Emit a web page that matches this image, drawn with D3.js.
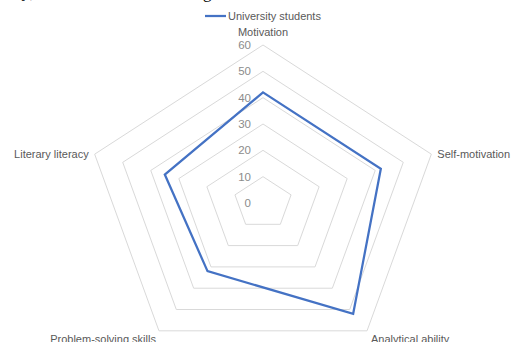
<!DOCTYPE html>
<html>
<head>
<meta charset="utf-8">
<script src="https://cdn.jsdelivr.net/npm/d3@7"></script>
<style>
  html, body { margin: 0; padding: 0; background: #fff; }
  svg { display: block; }
</style>
</head>
<body>
<svg id="chart" width="515" height="342"></svg>
<script>
const categories = ["Motivation", "Self-motivation", "Analytical ability", "Problem-solving skills", "Literary literacy"];
const seriesName = "University students";
const values = [42, 42, 52, 32, 35];
const tickValues = [0, 10, 20, 30, 40, 50, 60];

const svg = d3.select("#chart");
const cx = 263, cy = 203;
const sx = d3.scaleLinear().domain([0, 60]).range([0, 177]);
const sy = d3.scaleLinear().domain([0, 60]).range([0, 158]);
const angle = d3.scaleLinear().domain([0, categories.length]).range([0, 2 * Math.PI]);

function pt(i, v) {
  const a = angle(i);
  return [cx + sx(v) * Math.sin(a), cy - sy(v) * Math.cos(a)];
}

// document text fragments at top (cut off by the crop, as in the reference)
svg.append("text").attr("x", 40).attr("y", -3).attr("text-anchor", "end")
  .attr("font-family", "Liberation Serif, serif").attr("font-size", 17).attr("fill", "#000").text("ity),");
svg.append("text").attr("x", 203).attr("y", -2)
  .attr("font-family", "Liberation Serif, serif").attr("font-size", 17).attr("fill", "#000").text("g");

// grid rings
const rings = tickValues.filter(d => d > 0);
const line = d3.line().curve(d3.curveLinearClosed);
svg.append("g").selectAll("path").data(rings).join("path")
  .attr("d", r => line(categories.map((c, i) => pt(i, r))))
  .attr("fill", "none").attr("stroke", "#d9d9d9").attr("stroke-width", 1);

// tick labels
svg.append("g").selectAll("text").data(tickValues).join("text")
  .attr("x", cx - 12).attr("y", d => cy - sy(d))
  .attr("dy", "0.35em").attr("text-anchor", "end")
  .attr("font-family", "Liberation Sans, Arial, sans-serif").attr("font-size", 11.5)
  .attr("fill", "#8c8c8c").text(d => d);

// series
svg.append("path")
  .attr("d", line(values.map((v, i) => pt(i, v))))
  .attr("fill", "none").attr("stroke", "#4472c4").attr("stroke-width", 2.25)
  .attr("stroke-linejoin", "miter");

// category labels
const labelPos = [
  {x: cx, y: cy - sy(60) - 13, anchor: "middle"},
  {x: pt(1, 60)[0] + 6, y: pt(1, 60)[1], anchor: "start"},
  {x: pt(2, 60)[0] + 4, y: pt(2, 60)[1] + 8, anchor: "start"},
  {x: pt(3, 60)[0] - 3, y: pt(3, 60)[1] + 8, anchor: "end"},
  {x: pt(4, 60)[0] - 6, y: pt(4, 60)[1], anchor: "end"}
];
svg.append("g").selectAll("text").data(categories).join("text")
  .attr("x", (d, i) => labelPos[i].x).attr("y", (d, i) => labelPos[i].y)
  .attr("dy", "0.35em").attr("text-anchor", (d, i) => labelPos[i].anchor)
  .attr("font-family", "Liberation Sans, Arial, sans-serif").attr("font-size", 11)
  .attr("fill", "#595959").text(d => d);

// legend
const lg = svg.append("g");
lg.append("line").attr("x1", 205).attr("x2", 226).attr("y1", 16).attr("y2", 16)
  .attr("stroke", "#4472c4").attr("stroke-width", 2.25);
lg.append("text").attr("x", 228).attr("y", 16).attr("dy", "0.35em")
  .attr("font-family", "Liberation Sans, Arial, sans-serif").attr("font-size", 11)
  .attr("fill", "#595959").text(seriesName);
</script>
</body>
</html>
